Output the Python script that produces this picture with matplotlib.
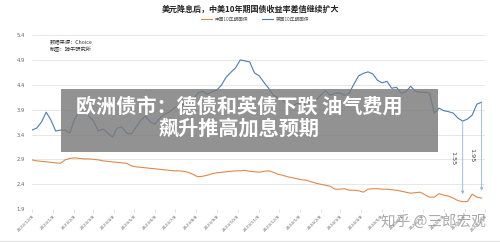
"""中美10年期国债收益率走势对比（周度读数）."""
import matplotlib
matplotlib.use("Agg")
import matplotlib.pyplot as plt
from matplotlib.patches import Rectangle
import pandas as pd

# ── 数据 ──────────────────────────────────────────────────────────────────
START = "2022-12-08"

US_10Y = [
    3.49, 3.53, 3.65, 3.85, 3.69, 3.47, 3.49, 3.49, 3.43, 3.71,
    3.87, 3.91, 3.77, 3.67, 3.47, 3.51, 3.43, 3.35, 3.53, 3.55,
    3.43, 3.41, 3.55, 3.69, 3.77, 3.65, 3.61, 3.73, 3.81, 3.85,
    3.93, 3.99, 4.01, 3.95, 4.09, 4.23, 4.27, 4.21, 4.26, 4.29,
    4.39, 4.55, 4.65, 4.74, 4.90, 4.88, 4.86, 4.64, 4.58, 4.45,
    4.33, 4.19, 4.14, 4.09, 3.99, 3.96, 4.03, 4.03, 3.99, 4.09,
    4.09, 4.19, 4.28, 4.19, 4.23, 4.24, 4.19, 4.23, 4.41, 4.58,
    4.63, 4.66, 4.62, 4.49, 4.44, 4.47, 4.33, 4.35, 4.23, 4.26,
    4.37, 4.27, 4.25, 4.25, 4.23, 3.83, 3.93, 3.88, 3.86, 3.83,
    3.73, 3.67, 3.71, 3.79, 4.01, 4.05,
]

CN_10Y = [
    2.89, 2.87, 2.86, 2.85, 2.84, 2.83, 2.82, 2.89, 2.92, 2.93,
    2.92, 2.91, 2.91, 2.90, 2.89, 2.87, 2.86, 2.85, 2.84, 2.83,
    2.82, 2.77, 2.75, 2.74, 2.73, 2.72, 2.71, 2.70, 2.69, 2.68,
    2.67, 2.67, 2.66, 2.64, 2.60, 2.55, 2.56, 2.58, 2.61, 2.63,
    2.64, 2.65, 2.66, 2.67, 2.67, 2.68, 2.66, 2.65, 2.64, 2.66,
    2.67, 2.64, 2.60, 2.58, 2.55, 2.53, 2.51, 2.49, 2.48, 2.45,
    2.42, 2.40, 2.38, 2.36, 2.30, 2.30, 2.31, 2.28, 2.28, 2.27,
    2.24, 2.30, 2.31, 2.31, 2.30, 2.30, 2.29, 2.28, 2.26, 2.24,
    2.22, 2.23, 2.24, 2.19, 2.14, 2.14, 2.21, 2.18, 2.16, 2.12,
    2.07, 2.05, 2.05, 2.20, 2.14, 2.12,
]

Y_TICKS = [1.9, 2.4, 2.9, 3.4, 3.9, 4.4, 4.9, 5.4]

X_TICK_LABELS = [
    "2022/12/8", "2023/1/8", "2023/2/8", "2023/3/8", "2023/4/8",
    "2023/5/8", "2023/6/8", "2023/7/8", "2023/8/8", "2023/9/8",
    "2023/10/8", "2023/11/8", "2023/12/8", "2024/1/8", "2024/2/8",
    "2024/3/8", "2024/4/8", "2024/5/8", "2024/6/8", "2024/7/8",
    "2024/8/8", "2024/9/8", "2024/10/8",
]

# 利差标注：(周序号, 文字, 文字纵坐标)
SPREAD_NOTES = [(91, "1.55", 2.93), (95, "1.95", 2.99)]

TITLE = "美元降息后，中美10年期国债收益率差值继续扩大"
BANNER_1 = "欧洲债市：德债和英债下跌 油气费用"
BANNER_2 = "飙升推高加息预期"

BLUE = "#4a7db0"
ORANGE = "#e0894a"


def main() -> None:
    plt.rcParams["font.family"] = ["Noto Sans CJK SC", "DejaVu Sans"]

    dates = pd.date_range(START, periods=len(US_10Y), freq="7D")
    ticks = pd.date_range(START, periods=len(X_TICK_LABELS),
                          freq=pd.DateOffset(months=1))

    fig = plt.figure(figsize=(5.0, 2.42), dpi=100)
    ax = fig.add_axes([0.064, 0.136, 0.906, 0.719])

    l_cn, = ax.plot(dates, CN_10Y, color=ORANGE, lw=0.8, label="中国10年期国债")
    l_us, = ax.plot(dates, US_10Y, color=BLUE, lw=0.8, label="美国10年期国债")

    ax.set_xlim(ticks[0], ticks[-1])
    ax.set_ylim(Y_TICKS[0], Y_TICKS[-1])
    ax.set_yticks(Y_TICKS)
    ax.set_yticklabels([f"{v:.1f}" for v in Y_TICKS], family="DejaVu Sans")
    ax.set_xticks(ticks)
    ax.set_xticklabels(X_TICK_LABELS, rotation=45, ha="right",
                       rotation_mode="anchor", family="DejaVu Sans")
    ax.tick_params(axis="y", length=0, pad=5, labelsize=3.8, labelcolor="#666666")
    ax.tick_params(axis="x", length=2, width=0.4, color="#cccccc", pad=1.5,
                   labelsize=3.2, labelcolor="#666666")
    ax.grid(axis="y", color="#e3e3e3", lw=0.6)
    for s in ax.spines.values():
        s.set_visible(False)

    # 利差箭头
    for i, txt, ty in SPREAD_NOTES:
        ax.annotate("", xy=(dates[i], CN_10Y[i] + 0.15), xytext=(dates[i], US_10Y[i]),
                    arrowprops=dict(arrowstyle="-|>", color="#8fb6da", lw=0.6,
                                    mutation_scale=4, shrinkA=0, shrinkB=0))
        ax.text(dates[i] - pd.Timedelta(days=14), ty, txt, rotation=270,
                ha="center", va="center", fontsize=4.6, color="#444444",
                family="DejaVu Sans")

    # 标题、图例、来源
    fig.text(0.5, 0.962, TITLE, ha="center", va="center", fontsize=5.8,
             fontweight="bold", color="#222222")
    fig.legend(handles=[l_cn, l_us], loc="center", bbox_to_anchor=(0.51, 0.921),
               ncol=2, frameon=False, fontsize=3.4, handlelength=2.4,
               columnspacing=3.0, handletextpad=0.5, labelcolor="#555555")
    fig.text(0.1, 0.826, "数据来源：Choice", ha="left", va="center",
             fontsize=3.8, color="#333333")
    fig.text(0.1, 0.797, "制图：骑牛研究所", ha="left", va="center",
             fontsize=3.8, color="#333333")

    # 新闻标题遮罩
    fig.patches.append(Rectangle((0.122, 0.372), 0.754, 0.26,
                                 transform=fig.transFigure, facecolor="#7a7a7a",
                                 alpha=0.82, edgecolor="none", zorder=5))
    fig.text(0.478, 0.562, BANNER_1, ha="center", va="center", fontsize=14.5,
             fontweight="bold", color="white", zorder=6)
    fig.text(0.478, 0.471, BANNER_2, ha="center", va="center", fontsize=14.5,
             fontweight="bold", color="white", zorder=6)

    # 水印
    fig.text(0.866, 0.083, "知乎 @三郎宏观", ha="center", va="center",
             fontsize=10.5, color="#9c9c9c", alpha=0.85, zorder=6)

    fig.add_artist(plt.Line2D([0, 1], [0.006, 0.006], transform=fig.transFigure,
                              color="#e6e6e6", lw=1.0))

    fig.savefig("out.png", dpi=100)
    plt.close(fig)


if __name__ == "__main__":
    main()
